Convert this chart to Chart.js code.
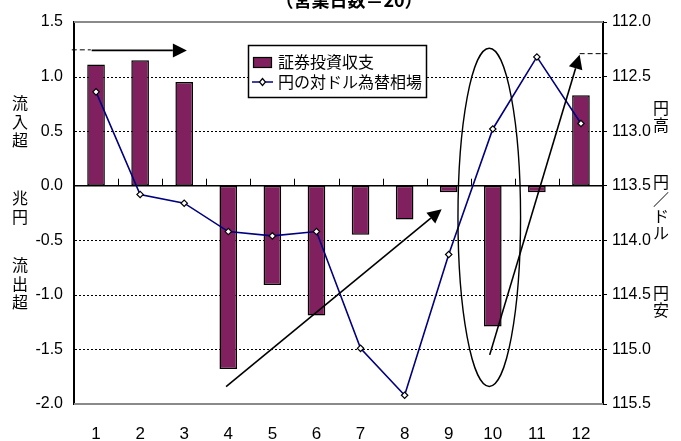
<!DOCTYPE html>
<html>
<head>
<meta charset="utf-8">
<script src="https://cdn.jsdelivr.net/npm/chart.js@4.4.1/dist/chart.umd.min.js"></script>
<style>
  html, body { margin: 0; padding: 0; background: #fff; }
</style>
</head>
<body>
<canvas id="c" width="681" height="441"></canvas>
<script>
// Months shown on the category axis
const months = ['1', '2', '3', '4', '5', '6', '7', '8', '9', '10', '11', '12'];
// 証券投資収支 (兆円, + = 流入超 / - = 流出超)
const securitiesBalance = [1.11, 1.15, 0.95, -1.68, -0.91, -1.19, -0.45, -0.31, -0.06, -1.29, -0.06, 0.83];
// 円の対ドル為替相場 (円/ドル)
const yenPerDollar = [112.64, 113.58, 113.66, 113.92, 113.96, 113.92, 114.99, 115.42, 114.13, 112.98, 112.32, 112.93];
// Axis ranges
const balanceRange = [-2.0, 1.5];
const rateRange = [112.0, 115.5];
const tickStep = 0.5;

const titleText = '（営業日数＝20）';
const leftCaption = [['流', '入', '超'], ['兆', '円'], ['流', '出', '超']];
const rightCaption = [['円', '高'], ['円', '／', 'ド', 'ル'], ['円', '安']];

// Hand-drawn trend marks, in (category index, balance) units
const dashMarks = [
  { from: [-0.55, 1.245], to: [-0.12, 1.245] },
  { from: [10.97, 1.21], to: [11.6, 1.21] }
];
const arrowMarks = [
  { from: [-0.1, 1.24], to: [2.06, 1.24] },
  { from: [2.95, -1.84], to: [7.84, -0.215] },
  { from: [8.93, -1.55], to: [10.97, 1.20] }
];
const ringMark = { center: [8.92, -0.29], rx: 0.71, ry: 1.55 };

const BAR_COLOR = '#80205e';
const LINE_COLOR = '#000080';
const CJK = '"Noto Sans CJK JP", "Noto Sans", sans-serif';
const LATIN = '"Liberation Sans", Arial, sans-serif';

function seg(ctx, x1, y1, x2, y2) {
  ctx.beginPath(); ctx.moveTo(x1, y1); ctx.lineTo(x2, y2); ctx.stroke();
}

const decor = {
  id: 'decor',
  beforeDatasetsDraw(chart) {
    const { ctx, chartArea: a, scales: { y } } = chart;
    ctx.save();
    // dashed gridlines at the inner ticks of the balance axis
    ctx.strokeStyle = '#000';
    ctx.lineWidth = 1;
    ctx.setLineDash([2, 2]);
    y.ticks.forEach(t => {
      const v = t.value;
      if (Math.abs(v) < 1e-9 || v <= balanceRange[0] || v >= balanceRange[1]) return;
      const yy = Math.round(y.getPixelForValue(v)) + 0.5;
      seg(ctx, a.left + 1, yy, a.right - 1, yy);
    });
    ctx.setLineDash([]);
    // plot frame, top and bottom edges
    ctx.strokeStyle = '#8a8a8a';
    ctx.lineWidth = 2;
    seg(ctx, a.left, a.top, a.right, a.top);
    seg(ctx, a.left, a.bottom, a.right, a.bottom);
    ctx.restore();
  },
  beforeDatasetDraw(chart, args) {
    if (args.meta.type !== 'line') return;
    const { ctx, chartArea: a, scales: { x, y } } = chart;
    const y0 = y.getPixelForValue(0);
    ctx.save();
    ctx.strokeStyle = '#000';
    ctx.lineWidth = 1.5;
    seg(ctx, a.left, y0, a.right, y0);
    // category separators on the zero line
    ctx.lineWidth = 1;
    for (let i = 1; i < months.length; i++) {
      const xb = Math.round(x.getPixelForValue(i - 0.5)) + 0.5;
      seg(ctx, xb, y0, xb, y0 - 7);
    }
    ctx.restore();
  },
  afterDatasetsDraw(chart) {
    const { ctx, scales: { x, y } } = chart;
    const px = v => x.getPixelForValue(v);
    const py = v => y.getPixelForValue(v);
    ctx.save();

    // dashed leaders
    ctx.strokeStyle = '#000';
    ctx.lineWidth = 1;
    ctx.setLineDash([5, 3]);
    dashMarks.forEach(m => seg(ctx, px(m.from[0]), py(m.from[1]), px(m.to[0]), py(m.to[1])));
    ctx.setLineDash([]);

    // arrows
    ctx.lineWidth = 1.6;
    ctx.fillStyle = '#000';
    arrowMarks.forEach(m => {
      const x1 = px(m.from[0]), y1 = py(m.from[1]);
      const x2 = px(m.to[0]), y2 = py(m.to[1]);
      const ang = Math.atan2(y2 - y1, x2 - x1);
      const len = 14, half = 7;
      const bx = x2 - len * Math.cos(ang), by = y2 - len * Math.sin(ang);
      seg(ctx, x1, y1, bx, by);
      ctx.beginPath();
      ctx.moveTo(x2, y2);
      ctx.lineTo(bx + half * Math.sin(ang), by - half * Math.cos(ang));
      ctx.lineTo(bx - half * Math.sin(ang), by + half * Math.cos(ang));
      ctx.closePath();
      ctx.fill();
    });

    // ellipse around month 10
    const cx = px(ringMark.center[0]), cy = py(ringMark.center[1]);
    const rx = Math.abs(px(ringMark.center[0] + ringMark.rx) - cx);
    const ry = Math.abs(py(ringMark.center[1] + ringMark.ry) - cy);
    ctx.lineWidth = 1.4;
    ctx.beginPath();
    ctx.ellipse(cx, cy, rx, ry, 0, 0, Math.PI * 2);
    ctx.stroke();

    // legend
    const bar = chart.data.datasets[0], line = chart.data.datasets[1];
    ctx.font = '16px ' + CJK;
    const lx = 248, ly = 45;
    const textX = lx + 30;
    const w = Math.max(ctx.measureText(bar.label).width, ctx.measureText(line.label).width) + 34;
    ctx.fillStyle = '#fff';
    ctx.fillRect(lx, ly, w, 52);
    ctx.strokeStyle = '#000';
    ctx.lineWidth = 1.5;
    ctx.strokeRect(lx + 0.5, ly + 0.5, w, 52);
    // bar swatch
    ctx.fillStyle = bar.backgroundColor;
    ctx.fillRect(lx + 5, ly + 12, 18, 10);
    ctx.lineWidth = 1.2;
    ctx.strokeRect(lx + 5.5, ly + 12.5, 18, 10);
    // line swatch
    ctx.strokeStyle = line.borderColor;
    ctx.lineWidth = 1.5;
    seg(ctx, lx + 4, ly + 37, lx + 25, ly + 37);
    ctx.beginPath();
    ctx.moveTo(lx + 14.5, ly + 33.5); ctx.lineTo(lx + 17.5, ly + 37);
    ctx.lineTo(lx + 14.5, ly + 40.5); ctx.lineTo(lx + 11.5, ly + 37); ctx.closePath();
    ctx.fillStyle = '#fff'; ctx.fill();
    ctx.strokeStyle = '#000'; ctx.lineWidth = 1.2; ctx.stroke();
    ctx.fillStyle = '#000';
    ctx.textBaseline = 'middle';
    ctx.textAlign = 'left';
    ctx.fillText(bar.label, textX, ly + 17);
    ctx.fillText(line.label, textX, ly + 37);

    // title (runs off the top edge)
    ctx.font = 'bold 18px ' + CJK;
    ctx.textAlign = 'center';
    ctx.textBaseline = 'alphabetic';
    ctx.fillText(titleText, 349, 7);

    // vertical axis captions
    ctx.font = '16px ' + CJK;
    ctx.textBaseline = 'middle';
    const leftStarts = [103, 198, 265];
    leftCaption.forEach((grp, g) => grp.forEach((ch, i) => ctx.fillText(ch, 20, leftStarts[g] + i * 18.5)));
    const rightStarts = [108, 182, 293];
    rightCaption.forEach((grp, g) => grp.forEach((ch, i) => ctx.fillText(ch, 661, rightStarts[g] + i * 17)));

    ctx.restore();
  }
};

new Chart(document.getElementById('c'), {
  data: {
    labels: months,
    datasets: [
      {
        type: 'bar',
        label: '証券投資収支',
        data: securitiesBalance,
        backgroundColor: BAR_COLOR,
        borderColor: '#000',
        borderWidth: 1.5,
        borderSkipped: false,
        categoryPercentage: 1.0,
        barPercentage: 0.4,
        yAxisID: 'y',
        order: 2
      },
      {
        type: 'line',
        label: '円の対ドル為替相場',
        data: yenPerDollar,
        borderColor: LINE_COLOR,
        borderWidth: 1.6,
        tension: 0,
        pointStyle: 'rectRot',
        pointRadius: 3.2,
        pointBackgroundColor: '#fff',
        pointBorderColor: '#000',
        pointBorderWidth: 1.2,
        yAxisID: 'y2',
        order: 1
      }
    ]
  },
  options: {
    responsive: false,
    animation: false,
    devicePixelRatio: 1,
    layout: { padding: { top: 22, left: 0, right: 0, bottom: 0 } },
    plugins: { legend: { display: false }, tooltip: { enabled: false }, title: { display: false } },
    scales: {
      x: {
        offset: true,
        grid: { display: false, drawTicks: false },
        border: { display: false },
        ticks: { color: '#000', font: { family: LATIN, size: 17 }, padding: 20, maxRotation: 0 },
        afterFit: s => { s.height = 37; }
      },
      y: {
        position: 'left',
        min: balanceRange[0],
        max: balanceRange[1],
        ticks: {
          stepSize: tickStep,
          color: '#000',
          font: { family: LATIN, size: 16 },
          padding: 11,
          callback: v => Number(v).toFixed(1)
        },
        grid: { display: false, drawTicks: false },
        border: { display: true, color: '#000', width: 2 },
        afterFit: s => { s.width = 74; }
      },
      y2: {
        position: 'right',
        reverse: true,
        min: rateRange[0],
        max: rateRange[1],
        ticks: {
          stepSize: tickStep,
          color: '#000',
          font: { family: LATIN, size: 16 },
          padding: 5,
          callback: v => Number(v).toFixed(1)
        },
        grid: { display: true, drawOnChartArea: false, drawTicks: true, tickLength: 4, color: '#000' },
        border: { display: true, color: '#000', width: 2 },
        afterFit: s => { s.width = 78; }
      }
    }
  },
  plugins: [decor]
});
</script>
</body>
</html>
